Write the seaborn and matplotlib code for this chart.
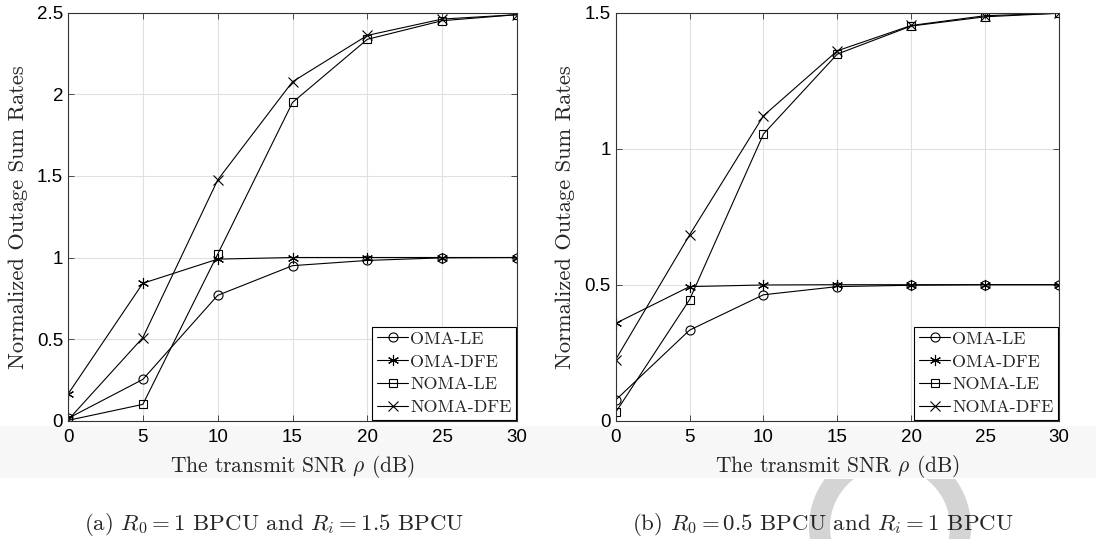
import numpy as np
import pandas as pd
import matplotlib
matplotlib.use("Agg")
import matplotlib.pyplot as plt
import seaborn as sns
from matplotlib.patches import Wedge, Rectangle
from matplotlib.lines import Line2D

# ---------------- data ----------------
snr_db = [0, 5, 10, 15, 20, 25, 30]
series_names = ["OMA-LE", "OMA-DFE", "NOMA-LE", "NOMA-DFE"]

# (a) R0 = 1 BPCU, Ri = 1.5 BPCU
a_oma_le = [0.014, 0.253, 0.768, 0.950, 0.982, 0.998, 1.0]
a_oma_dfe = [0.163, 0.842, 0.990, 1.0, 1.0, 1.0, 1.0]
a_noma_le = [0.002, 0.100, 1.020, 1.950, 2.337, 2.451, 2.488]
a_noma_dfe = [0.004, 0.509, 1.475, 2.077, 2.361, 2.461, 2.488]

# (b) R0 = 0.5 BPCU, Ri = 1 BPCU
b_oma_le = [0.076, 0.333, 0.463, 0.493, 0.498, 0.500, 0.500]
b_oma_dfe = [0.358, 0.493, 0.499, 0.500, 0.500, 0.500, 0.500]
b_noma_le = [0.031, 0.445, 1.054, 1.348, 1.451, 1.485, 1.498]
b_noma_dfe = [0.225, 0.683, 1.121, 1.360, 1.453, 1.489, 1.498]

y_ticks_a = [0, 0.5, 1, 1.5, 2, 2.5]
y_tick_labels_a = ["0", "0.5", "1", "1.5", "2", "2.5"]
y_ticks_b = [0, 0.5, 1, 1.5]
y_tick_labels_b = ["0", "0.5", "1", "1.5"]
x_ticks = [0, 5, 10, 15, 20, 25, 30]

caption_a = r"(a) $R_0 = 1$ BPCU and $R_i = 1.5$ BPCU"
caption_b = r"(b) $R_0 = 0.5$ BPCU and $R_i = 1$ BPCU"
xlabel = r"The transmit SNR $\rho$ (dB)"
ylabel = "Normalized Outage Sum Rates"

# ---------------- style ----------------
sns.set_theme(style="white")
plt.rcParams["font.family"] = ["cmr10", "DejaVu Serif"]
plt.rcParams["mathtext.fontset"] = "cm"
plt.rcParams["axes.unicode_minus"] = False

W, H = 1096, 539
fig = plt.figure(figsize=(W / 100, H / 100), dpi=100)
fig.patch.set_facecolor("white")

# faint band behind tick labels / xlabel, and watermark ring
fig.patches.append(Rectangle((0, (H - 478) / H), 1, (478 - 426) / H,
                             transform=fig.transFigure, facecolor="#f7f7f7",
                             edgecolor="none", zorder=-5))
clip = Rectangle((0, 0), W, H - 479, transform=None)
ring = Wedge((890, H - 527), 81, 0, 360, width=21, transform=None,
             facecolor="#d4d4d4", edgecolor="none", zorder=-4)
fig.patches.append(ring)
ring.set_clip_path(clip)

markers = {
    "OMA-LE": "o",
    "OMA-DFE": (6, 2, 0),
    "NOMA-LE": "s",
    "NOMA-DFE": "x",
}
msizes = {"OMA-LE": 6.5, "OMA-DFE": 8, "NOMA-LE": 6, "NOMA-DFE": 7}

tick_font = {"family": "Liberation Sans", "size": 13.5}


def draw(ax, values, yticks, ylabels, ymax):
    df = pd.DataFrame({
        "snr": np.tile(snr_db, len(series_names)),
        "rate": np.concatenate(values),
        "scheme": np.repeat(series_names, len(snr_db)),
    })
    for name in series_names:
        sub = df[df["scheme"] == name]
        sns.lineplot(data=sub, x="snr", y="rate", ax=ax, color="black",
                     linewidth=0.8, marker=markers[name],
                     markersize=msizes[name], markerfacecolor="none",
                     markeredgecolor="black", markeredgewidth=0.8,
                     label=None, legend=False)
    ax.set_xlim(0, 30)
    ax.set_ylim(0, ymax)
    ax.set_xticks(x_ticks)
    ax.set_xticklabels([str(t) for t in x_ticks], fontdict=tick_font)
    ax.set_yticks(yticks)
    ax.set_yticklabels(ylabels, fontdict=tick_font)
    ax.grid(True, color="#e0e0e0", linewidth=0.8)
    ax.set_axisbelow(True)
    ax.tick_params(direction="in", length=4, width=0.6, color="#333333",
                   top=True, right=True, bottom=True, left=True,
                   labelcolor="black")
    ax.tick_params(axis="x", pad=6)
    ax.tick_params(axis="y", pad=3.5)
    for s in ax.spines.values():
        s.set_visible(True)
        s.set_color("#333333")
        s.set_linewidth(0.8)
    ax.set_xlabel(xlabel, fontsize=15.5)
    ax.set_ylabel(ylabel, fontsize=16.2)
    ax.xaxis.set_label_coords(0.5, -0.078)
    handles = [Line2D([], [], color="black", linewidth=0.8,
                      marker=markers[n], markersize=msizes[n],
                      markerfacecolor="none", markeredgecolor="black",
                      markeredgewidth=0.8) for n in series_names]
    leg = ax.legend(handles, series_names, loc="lower right", fontsize=13,
                    frameon=True, fancybox=False, borderpad=0.25,
                    labelspacing=0.4, handlelength=1.75, handletextpad=0.1,
                    borderaxespad=0.05)
    leg.get_frame().set_edgecolor("black")
    leg.get_frame().set_linewidth(0.8)
    leg.get_frame().set_facecolor("white")
    leg.get_frame().set_alpha(1)


ax1 = fig.add_axes([68 / W, (H - 420.7) / H, (517 - 68) / W, 408 / H])
ax2 = fig.add_axes([615.7 / W, (H - 420.7) / H, (1059 - 615.7) / W, 408 / H])
ax1.set_facecolor("white")
ax2.set_facecolor("white")

draw(ax1, [a_oma_le, a_oma_dfe, a_noma_le, a_noma_dfe],
     y_ticks_a, y_tick_labels_a, 2.5)
draw(ax2, [b_oma_le, b_oma_dfe, b_noma_le, b_noma_dfe],
     y_ticks_b, y_tick_labels_b, 1.5)
ax1.yaxis.set_label_coords(-0.089, 0.5)
ax2.yaxis.set_label_coords(-0.092, 0.5)

fig.text(274.5 / W, (H - 524) / H, caption_a, ha="center", va="center",
         fontsize=16.5)
fig.text(823 / W, (H - 524) / H, caption_b, ha="center", va="center",
         fontsize=16.5)

fig.savefig("out.png", dpi=100)
